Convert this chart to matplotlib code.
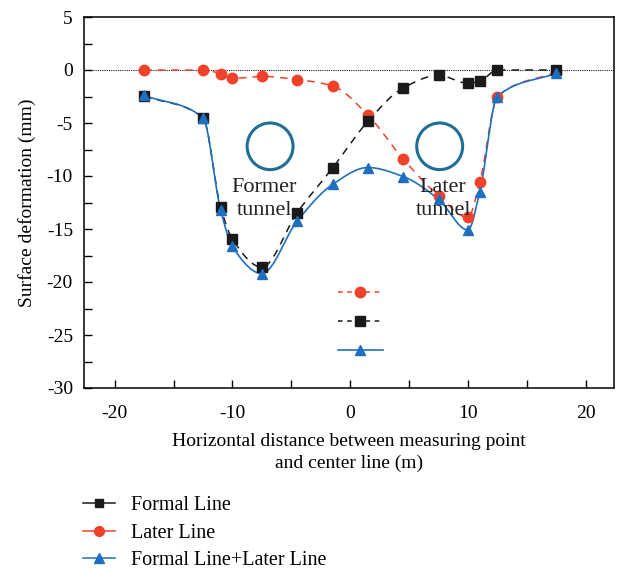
import numpy as np
import matplotlib
matplotlib.use("Agg")
import matplotlib.pyplot as plt
from matplotlib.lines import Line2D
from matplotlib.patches import Ellipse

plt.rcParams['font.family'] = ['Liberation Serif', 'DejaVu Serif']
plt.rcParams['font.size'] = 14
plt.rcParams['axes.unicode_minus'] = False

# measuring points (m)
x_pts = [-17.5, -12.5, -11, -10, -7.5, -4.5, -1.5, 1.5, 4.5, 7.5, 10, 11, 12.5, 17.5]

# surface deformation (mm)
formal_line = [-2.45, -4.5, -12.95, -15.95, -18.6, -13.45, -9.25, -4.85, -1.7, -0.5, -1.25, -1.05, 0.0, 0.0]
later_line = [0.0, 0.0, -0.35, -0.8, -0.6, -0.9, -1.5, -4.25, -8.4, -11.85, -13.9, -10.6, -2.5, -0.2]
both_lines = [-2.4, -4.5, -13.2, -16.65, -19.2, -14.25, -10.8, -9.2, -10.05, -12.2, -15.1, -11.5, -2.5, -0.3]

tunnel_x = [-6.8, 7.6]
tunnel_labels = ["Former\ntunnel", "Later\ntunnel"]
tunnel_label_x = [-7.3, 7.9]

BLACK = "#1a1a1a"
RED = "#f0412a"
BLUE = "#1f6fc0"
TEAL = "#1f6e96"


def smooth(x, y, n=500):
    # shape-preserving (pchip) cubic through the measured points
    x = np.asarray(x, float)
    y = np.asarray(y, float)
    h = np.diff(x)
    d = np.diff(y) / h
    m = np.zeros_like(y)
    for i in range(1, len(x) - 1):
        if d[i - 1] * d[i] > 0:
            w1 = 2 * h[i] + h[i - 1]
            w2 = h[i] + 2 * h[i - 1]
            m[i] = (w1 + w2) / (w1 / d[i - 1] + w2 / d[i])
    m[0] = d[0]
    m[-1] = d[-1]
    xs = np.linspace(x[0], x[-1], n)
    idx = np.clip(np.searchsorted(x, xs) - 1, 0, len(x) - 2)
    hh = h[idx]
    t = (xs - x[idx]) / hh
    h00 = 2 * t ** 3 - 3 * t ** 2 + 1
    h10 = t ** 3 - 2 * t ** 2 + t
    h01 = -2 * t ** 3 + 3 * t ** 2
    h11 = t ** 3 - t ** 2
    ys = h00 * y[idx] + h10 * hh * m[idx] + h01 * y[idx + 1] + h11 * hh * m[idx + 1]
    return xs, ys


fig = plt.figure(figsize=(6.18, 5.69), dpi=100)
ax = fig.add_axes([84 / 618, 1 - 388 / 569, 530 / 618, 371 / 569])

ax.axhline(0, color=BLACK, linestyle=(0, (1, 1)), linewidth=0.8, zorder=1)

xs, ys = smooth(x_pts, later_line)
ax.plot(xs, ys, color=RED, linestyle=(0, (5, 4)), linewidth=1.1, zorder=2)
ax.plot(x_pts, later_line, 'o', color=RED, markersize=7.5, zorder=3)

xs, ys = smooth(x_pts, formal_line)
ax.plot(xs, ys, color=BLACK, linestyle=(0, (5, 4)), linewidth=1.1, zorder=2)
ax.plot(x_pts, formal_line, 's', color=BLACK, markersize=6.5, zorder=3)

xs, ys = smooth(x_pts, both_lines)
ax.plot(xs, ys, color=BLUE, linewidth=1.2, zorder=2)
ax.plot(x_pts, both_lines, '^', color=BLUE, markersize=7.5, zorder=3)

# tunnels
for cx, lx, lab in zip(tunnel_x, tunnel_label_x, tunnel_labels):
    ax.add_patch(Ellipse((cx, -7.2), 3.9, 4.4, fill=False, edgecolor=TEAL, linewidth=2.2))
    ax.text(lx, -12.15, lab, ha='center', va='center', fontsize=16, color="#222222",
            linespacing=1.32, zorder=4)

ax.set_xlim(-22.6, 22.4)
ax.set_ylim(-30, 5)
ax.set_xticks([-20, -10, 0, 10, 20])
ax.set_xticks([-15, -5, 5, 15], minor=True)
ax.set_yticks(np.arange(-30, 6, 5))
ax.set_yticks(np.arange(-27.5, 5, 5), minor=True)
ax.tick_params(which='both', direction='in', length=6, width=1, top=False, right=False)
ax.tick_params(axis='x', pad=12)
ax.tick_params(axis='y', pad=8)
for s in ax.spines.values():
    s.set_linewidth(1.1)

ax.set_xlabel("Horizontal distance between measuring point\nand center line (m)", labelpad=8,
              linespacing=1.35)
ax.set_ylabel("Surface deformation (mm)", labelpad=8)

# legend inside the plot (symbols only)
inner = [
    Line2D([], [], color=RED, linestyle=(0, (3, 3)), marker='o', markersize=7.5, linewidth=1.1),
    Line2D([], [], color=BLACK, linestyle=(0, (3, 3)), marker='s', markersize=6.5, linewidth=1.1),
    Line2D([], [], color=BLUE, marker='^', markersize=7.5, linewidth=1.2),
]
ax.legend(inner, ["", "", ""], loc='upper left', bbox_to_anchor=(254 / 530, 1 - 268 / 371),
          frameon=False, handlelength=2.3, labelspacing=0.6, handletextpad=0, borderpad=0,
          borderaxespad=0)

# legend below the figure
outer = [
    Line2D([], [], color=BLACK, marker='s', markersize=6, linewidth=1.1),
    Line2D([], [], color=RED, marker='o', markersize=7, linewidth=1.1),
    Line2D([], [], color=BLUE, marker='^', markersize=7, linewidth=1.1),
]
fig.legend(outer, ["Formal Line", "Later Line", "Formal Line+Later Line"], loc='upper left',
           bbox_to_anchor=(83 / 618, 1 - 496 / 569), frameon=False, handlelength=1.6,
           handletextpad=0.8, labelspacing=0.42, borderpad=0, borderaxespad=0, fontsize=14.5)

fig.savefig("out.png", dpi=100)
